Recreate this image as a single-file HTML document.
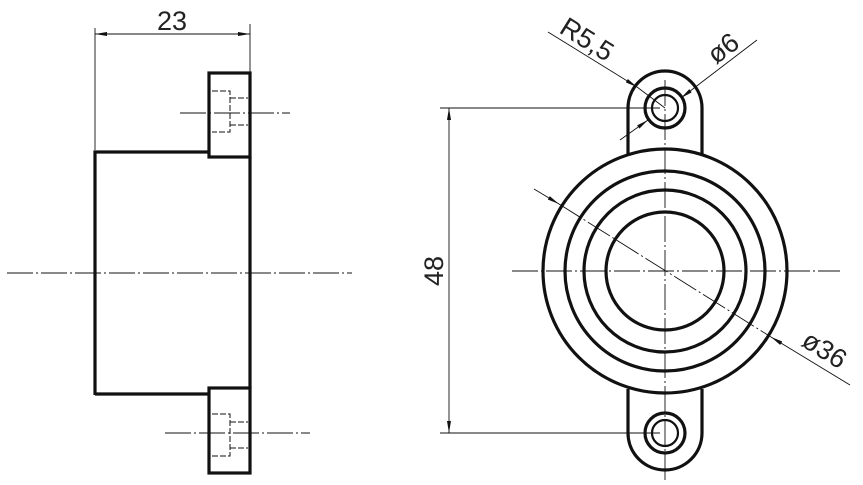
<!DOCTYPE html>
<html><head><style>body{margin:0;background:#fff}svg{display:block}</style></head><body>
<svg width="863" height="485" viewBox="0 0 863 485" xmlns="http://www.w3.org/2000/svg" font-family="Liberation Sans, sans-serif">
<defs>
<marker id="a" viewBox="0 0 12 4" refX="12" refY="2" markerWidth="12" markerHeight="4" orient="auto-start-reverse" markerUnits="userSpaceOnUse"><path d="M0,0L12,2L0,4z" fill="#111"/></marker>
</defs>
<g fill="none" stroke="#111">
<g stroke-width="3.2">
<path d="M95,395V152H209"/>
<rect x="209" y="73" width="41" height="84"/>
<rect x="209" y="388" width="41" height="85"/>
<path d="M209,394H95"/>
<path d="M250,157V388"/>
</g>
<g stroke-width="1" stroke-dasharray="6,2">
<path d="M212,91H230V132H212M230,98H248M230,125H248"/>
<path d="M212,414H230V456H212M230,422H248M230,448H248"/>
</g>
<g stroke-width="0.9" stroke-dasharray="26,3,2,3">
<path d="M7,273H352"/>
<path d="M180,113H290"/>
<path d="M165,433H310"/>
</g>
<g stroke-width="0.9">
<path d="M95,150V28M250,73V24"/>
<path d="M95,34H250" marker-start="url(#a)" marker-end="url(#a)"/>
</g>
<g stroke-width="3.2">
<circle cx="665" cy="271" r="122"/>
<circle cx="665" cy="271" r="100"/>
<circle cx="665" cy="271" r="81"/>
<circle cx="665" cy="271" r="59"/>
<path d="M628,155V108A37,37 0 0 1 702,108V155"/>
<path d="M628,389V433A37,37 0 0 0 702,433V389"/>
<circle cx="665" cy="108" r="20"/>
<circle cx="665" cy="433" r="20"/>
</g>
<g stroke-width="2.2">
<circle cx="665" cy="108" r="13"/>
<circle cx="665" cy="433" r="13"/>
</g>
<g stroke-width="0.9" stroke-dasharray="26,3,2,3">
<path d="M512,271H840"/>
<path d="M665,80V480"/>
</g>
<g stroke-width="0.9">
<path d="M440,108H660M440,433H660"/>
<path d="M449,108V433" marker-start="url(#a)" marker-end="url(#a)"/>
</g>
<g stroke-width="0.9">
<path d="M534,189L559,204" marker-end="url(#a)"/>
<path d="M559,204L771,337" stroke-dasharray="26,3,2,3"/>
<path d="M850,385L771,337" marker-end="url(#a)"/>
<path d="M548,32L637,87" marker-end="url(#a)"/>
<path d="M637,87L665,108"/>
<path d="M757,40L681,98" marker-end="url(#a)"/>
<path d="M620,140L648,120" marker-end="url(#a)"/>
</g>
</g>
<g fill="#222" font-size="27" font-weight="normal">
<text x="172" y="30" text-anchor="middle">23</text>
<text transform="translate(443,271) rotate(-90)" text-anchor="middle">48</text>
<text transform="translate(558,32) rotate(32)">R5,5</text>
<text transform="translate(716,65) rotate(-37)">ø6</text>
<text transform="translate(800,345) rotate(32)">ø36</text>
</g>
</svg>
</body></html>
